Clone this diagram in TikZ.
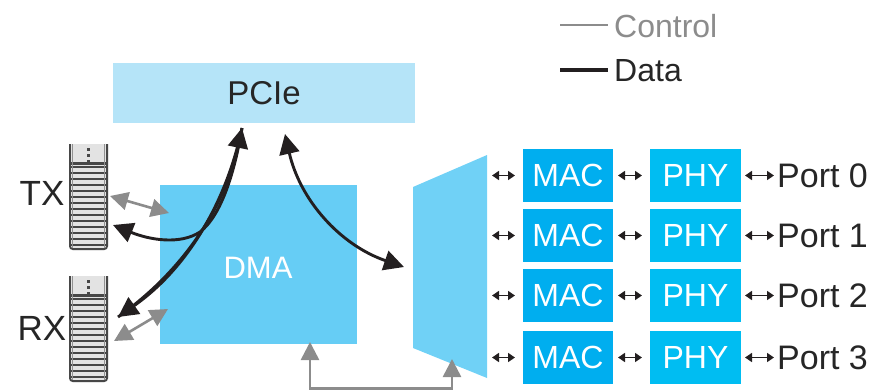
\documentclass[tikz,border=0pt]{standalone}
\usepackage{fontspec}
\setmainfont{Liberation Sans}
\usetikzlibrary{arrows.meta}

\definecolor{pciecol}{HTML}{B5E4F8}
\definecolor{dmacol}{HTML}{66CDF5}
\definecolor{muxcol}{HTML}{70D1F6}
\definecolor{maccol}{HTML}{00AEEF}
\definecolor{phycol}{HTML}{00BDF2}
\definecolor{ctrlgray}{HTML}{8C8C8C}
\definecolor{datablk}{HTML}{231F20}
\definecolor{txtdark}{HTML}{262626}
\definecolor{qfill}{HTML}{E3E3E3}
\definecolor{qline}{HTML}{474747}

\tikzset{
  txt/.style={font=\fontsize{#1}{#1}\selectfont, inner sep=0pt},
  block/.style={draw=none, inner sep=0pt, outer sep=0pt, text=white,
                font=\fontsize{32}{32}\selectfont},
  macbox/.style={block, fill=maccol, minimum width=90pt, minimum height=53pt},
  phybox/.style={block, fill=phycol, minimum width=91pt, minimum height=53pt},
  grayhead/.tip={Triangle[length=18pt,width=18pt]},
  datatip/.tip={Triangle[length=20pt,width=20pt]},
  smallhead/.tip={Triangle[length=7pt,width=9pt]},
  ctrlarrow/.style={draw=ctrlgray, line width=2.6pt, arrows={grayhead-grayhead}},
  dataarrow/.style={draw=datablk, line width=2.9pt},
  datahead/.style={arrows={-datatip}},
  databoth/.style={arrows={datatip-datatip}},
  tinyarrow/.style={draw=datablk, line width=1.5pt, arrows={smallhead-smallhead}},
}

% a descriptor queue drawn as a striped stack
\newcommand{\descqueue}[3]{% name, left x, top y
  \begin{scope}[shift={(#2,#3)}]
    \fill[qfill, rounded corners=3pt] (0,0) -- (0,106) -- (39,106) -- (39,0) -- cycle;
    \foreach \k in {0,...,13} {
      \fill[qline] (1,{21.5+6*\k}) rectangle (38,{24.3+6*\k});
    }
    \fill[qline] (1,18) rectangle (38,20.5);
    \draw[qline, line width=1.8pt, rounded corners=3pt] (0.9,0) -- (0.9,105.1) -- (38.1,105.1) -- (38.1,0);
    \draw[qline!60, line width=0.8pt] (3.2,0) -- (3.2,104);
    \draw[qline!60, line width=0.8pt] (35.8,0) -- (35.8,104);
    \foreach \d in {4,10,16} { \fill[qline] (18,\d) rectangle (21,{\d+3}); }
    \coordinate (#1) at (19.5,53);
  \end{scope}
}

\begin{document}
\begin{tikzpicture}[x=1pt,y=-1pt]
  \useasboundingbox (0,0) rectangle (877,391);

  % legend
  \draw[ctrlgray, line width=2.4pt] (560,25) coordinate (lc1) -- (608,25) coordinate (lc2);
  \node[txt=32, text=ctrlgray, anchor=west] (lgctrl) at (614,26) {Control};
  \draw[datablk, line width=3.2pt] (560,70) coordinate (ld1) -- (608,70) coordinate (ld2);
  \node[txt=32, text=txtdark, anchor=west] (lgdata) at (614,71) {Data};

  % host interface and DMA engine
  \node[fill=pciecol, minimum width=302pt, minimum height=60pt, inner sep=0pt,
        text=txtdark, font=\fontsize{33}{33}\selectfont] (pcie) at (264,93) {PCIe};
  \node[fill=dmacol, minimum width=197pt, minimum height=159pt, inner sep=0pt] (dma) at (258.5,264.5) {};
  \node[txt=31, text=white] (dmalbl) at (258,268) {DMA};

  % switch / mux
  \fill[muxcol] (413,187) -- (487,155) -- (487,378) -- (413,348) -- cycle;
  \coordinate (muxin) at (404,267);
  \coordinate (muxbot) at (452,359);

  % descriptor queues
  \descqueue{txq}{69}{144}
  \descqueue{rxq}{69}{276}
  \node[txt=35, text=txtdark] (txlbl) at (42,193) {TX};
  \node[txt=35, text=txtdark] (rxlbl) at (42,328) {RX};

  % MAC / PHY / ports
  \foreach \r/\y in {0/175.5,1/235.5,2/295.5,3/357.5} {
    \node[macbox] (mac\r) at (568,\y) {MAC};
    \node[phybox] (phy\r) at (695.5,\y) {PHY};
    \node[txt=34, text=txtdark, anchor=west] (port\r) at (777,\y) {Port \r};
    \coordinate (sw\r) at (492,\y);
    \draw[tinyarrow] (sw\r) -- ([xshift=-8pt]mac\r.west);
    \draw[tinyarrow] ([xshift=5pt]mac\r.east) -- ([xshift=-8pt]phy\r.west);
    \draw[tinyarrow] ([xshift=4pt]phy\r.east) -- ([xshift=-3pt]port\r.west);
  }

  % control paths
  \coordinate (txc) at (110,196);
  \coordinate (txd) at (169,213);
  \coordinate (rxc) at (114,341);
  \coordinate (rxd) at (168,309);
  \draw[ctrlarrow] (txc) -- (txd);
  \draw[ctrlarrow] (rxc) -- (rxd);
  \coordinate (dmabot) at (310,342);
  \draw[ctrlarrow] (dmabot) |- (452,388.5) -- (muxbot);

  % data paths
  \coordinate (pcietip) at (242,128);
  \coordinate (pcieout) at (285,134);
  \coordinate (txtip) at (113,225);
  \coordinate (rxtip) at (118,317);
  \draw[dataarrow, datahead] (pcietip) .. controls (235,170) and (222,215) .. (200,232)
        .. controls (180,245) and (150,240) .. (txtip);
  \draw[dataarrow, datahead] (rxtip) .. controls (192,265) and (228,195) .. (pcietip);
  \draw[dataarrow, datahead] (pcietip) .. controls (228,195) and (192,265) .. (rxtip);
  \draw[dataarrow, databoth] (pcieout) .. controls (300,200) and (340,245) .. (muxin);
\end{tikzpicture}
\end{document}
